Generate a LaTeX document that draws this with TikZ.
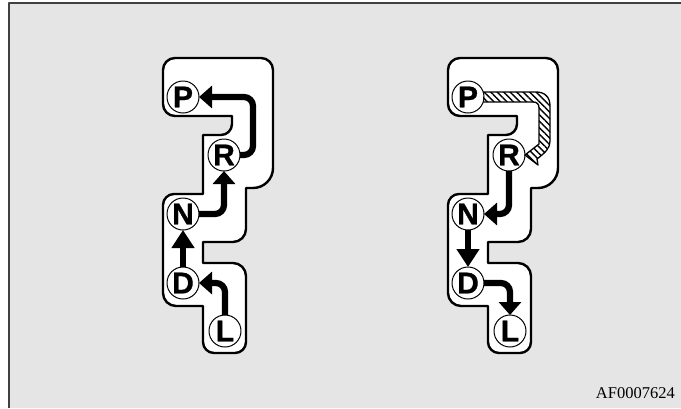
\documentclass[tikz,border=0pt]{standalone}
\usepackage{fontspec}
\setmainfont{Liberation Sans}
\newfontfamily\codefont{Liberation Serif}
\newfontfamily\stopfont[BoldFeatures={FakeBold=1}]{Liberation Sans}
\usetikzlibrary{arrows.meta,patterns.meta}

\begin{document}
\begin{tikzpicture}[x=1pt, y=-1pt, line join=round,
    >={Triangle[length=13pt,width=22pt]},
    gate/.style={draw=black, line width=2.4pt, fill=white},
    stop/.style={circle, draw=black, line width=1pt, fill=white, minimum size=32pt, inner sep=0pt, outer sep=0pt, font=\stopfont\bfseries\fontsize{30}{30}\selectfont},
    move/.style={->, line width=6.2pt, rounded corners=9pt},
    longmove/.style={-{Triangle[length=18pt,width=22pt]}, line width=6.2pt}]
  \useasboundingbox (0,0) rectangle (681,408);

  % Grey panel with its dark top and left edges
  \fill[black!10] (9,3) rectangle (681,408);
  \draw[black!75, line width=1.6pt] (8.8,408) -- (8.8,2.8) -- (681,2.8);

  % The two gates, with their five stops
  \foreach \side/\dx in {a/0,b/285} {
    \begin{scope}[xshift=\dx pt]
      \draw[gate] (246,188) [rounded corners=13pt] -- (246,242) [sharp corners] -- (203,242) -- (203,263)
        [rounded corners=13pt] -- (246,263) [rounded corners=11pt] -- (246,353) -- (203,353) [sharp corners] -- (203,306)
        [rounded corners=13pt] -- (163,306) [rounded corners=11pt] -- (163,194) [sharp corners] -- (203,194) -- (203,135)
        [rounded corners=11pt] -- (232,135) [sharp corners] -- (232,116)
        [rounded corners=12pt] -- (163,116) -- (163,58) -- (273,58) [rounded corners=20pt] -- (273,188) [sharp corners] -- (246,188) -- cycle;
      \node[stop] (P\side) at (183,97) {P};
      \node[stop] (R\side) at (224,155) {R};
      \node[stop] (N\side) at (183,214) {N};
      \node[stop] (D\side) at (183,283) {D};
      \node[stop] (L\side) at (225,331) {L};
    \end{scope}
  }

  % Left gate: moving up
  \draw[move] (La.north) |- (Da.east);
  \draw[longmove] (Da.north) -- (Na.south);
  \draw[move] (Na.east) -| (Ra.south);
  \draw[move] (Ra.east) -- ++(13,0) |- (Pa.east);

  % Right gate: moving down
  \draw[move] (Rb.south) |- (Nb.east);
  \draw[longmove] (Nb.south) -- (Db.north);
  \draw[move] (Db.east) -| (Lb.north);

  % Hatched move from P to R
  \draw[line width=1.3pt, pattern={Lines[angle=-45,distance=4.6pt,line width=1.4pt]}]
    (Pb.18) -- (536,92) .. controls (545,92) and (550,97) .. (550,106) -- (550,141)
    .. controls (550,148) and (546,152) .. (537,159) -- (538,165) -- (Rb.east) -- (539,144)
    -- (539,108) .. controls (539,104) and (537,102) .. (533,102) -- (Pb.-18);

  \node[font=\codefont\fontsize{16.5}{16.5}\selectfont, anchor=base east, inner sep=0pt] (code) at (675,398) {AF0007624};
\end{tikzpicture}
\end{document}
